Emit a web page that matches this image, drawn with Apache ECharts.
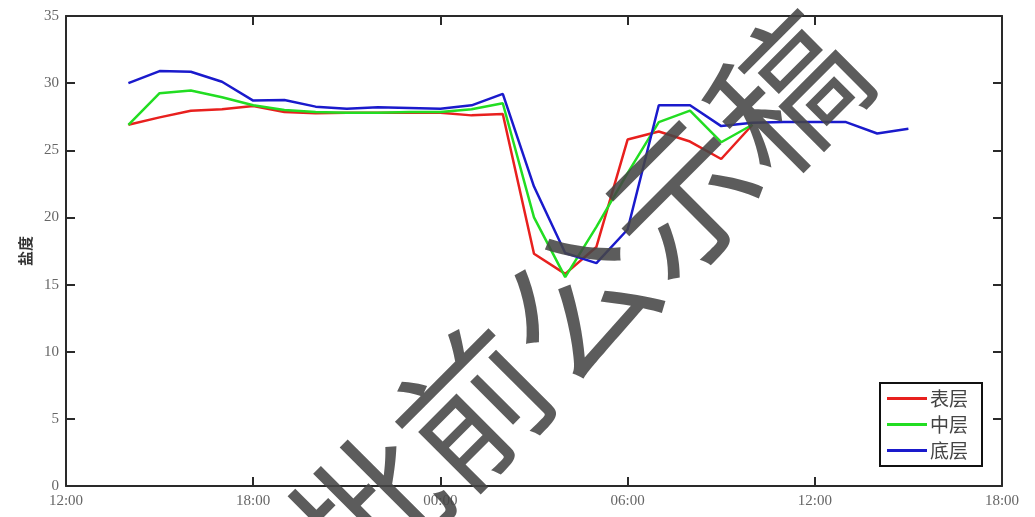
<!DOCTYPE html>
<html>
<head>
<meta charset="utf-8">
<script src="https://cdn.jsdelivr.net/npm/echarts@6/dist/echarts.min.js"></script>
<style>
html,body{margin:0;padding:0;background:#fff;}
#chart{width:1035px;height:517px;}
</style>
</head>
<body>
<div id="chart"></div>
<script>
// Hours since 12:00 on day 1
const hoursSurfMid = [2,3,4,5,6,7,8,9,10,11,12,13,14,15,16,17,18,19,20,21,22];
const hoursBottom  = [2,3,4,5,6,7,8,9,10,11,12,13,14,15,16,17,18,19,20,21,22,23,24,25,26,27];
const surface = [26.9,27.45,27.95,28.05,28.3,27.85,27.75,27.8,27.8,27.8,27.8,27.6,27.7,17.3,15.8,17.8,25.8,26.4,25.65,24.35,26.9];
const middle  = [26.9,29.25,29.45,28.95,28.35,28.0,27.85,27.8,27.8,27.85,27.85,28.05,28.5,20.0,15.55,19.3,23.3,27.1,27.95,25.6,26.9];
const bottom  = [30.0,30.9,30.85,30.1,28.7,28.75,28.25,28.1,28.2,28.15,28.1,28.35,29.2,22.3,17.35,16.6,19.1,28.35,28.35,26.8,27.05,27.1,27.1,27.1,26.25,26.6];
const seriesNames = ['表层','中层','底层'];
const xTickLabels = ['12:00','18:00','00:00','06:00','12:00','18:00'];
const yName = '盐度';
const watermark = '批前公示稿';

const pair = (xs, ys) => xs.map((x, i) => [x, ys[i]]);
const serif = '"Liberation Serif", "DejaVu Serif", serif';
const cjk = '"Noto Sans CJK SC", serif';
const axisColor = '#2a2a2a';

const chart = echarts.init(document.getElementById('chart'), null, {renderer: 'canvas'});
const xCommon = {
  type: 'value', min: 0, max: 30, interval: 6,
  axisLine: {show: true, onZero: false, lineStyle: {color: axisColor, width: 2}},
  axisTick: {show: true, inside: true, length: 9, lineStyle: {color: axisColor, width: 2}},
  splitLine: {show: false}
};
const yCommon = {
  type: 'value', min: 0, max: 35, interval: 5,
  axisLine: {show: true, onZero: false, lineStyle: {color: axisColor, width: 2}},
  axisTick: {show: true, inside: true, length: 9, lineStyle: {color: axisColor, width: 2}},
  splitLine: {show: false}
};
chart.setOption({
  animation: false,
  backgroundColor: '#ffffff',
  grid: {left: 66, right: 33, top: 16, bottom: 31, containLabel: false},
  xAxis: [
    Object.assign({}, xCommon, {
      position: 'bottom',
      axisLabel: {show: true, margin: 8, color: '#666', fontFamily: serif, fontSize: 15,
        formatter: v => xTickLabels[Math.round(v / 6)]}
    }),
    Object.assign({}, xCommon, {position: 'top', axisLabel: {show: false}})
  ],
  yAxis: [
    Object.assign({}, yCommon, {
      position: 'left',
      name: yName, nameLocation: 'middle', nameGap: 30, nameRotate: 90,
      nameTextStyle: {color: '#333', fontFamily: cjk, fontSize: 15, fontWeight: 'bold'},
      axisLabel: {show: true, margin: 7, color: '#666', fontFamily: serif, fontSize: 15}
    }),
    Object.assign({}, yCommon, {position: 'right', axisLabel: {show: false}})
  ],
  legend: {
    orient: 'vertical',
    left: 880, top: 383,
    padding: [6, 14, 6, 7],
    itemGap: 7,
    icon: 'rect',
    itemWidth: 40, itemHeight: 3,
    borderColor: '#111', borderWidth: 2,
    backgroundColor: '#fff',
    textStyle: {fontFamily: cjk, fontSize: 19, color: '#444', padding: [0, 0, 0, -2]},
    data: seriesNames
  },
  series: [
    {name: seriesNames[0], type: 'line', data: pair(hoursSurfMid, surface), symbol: 'none',
      lineStyle: {color: '#e8201e', width: 2.5}, itemStyle: {color: '#e8201e'}},
    {name: seriesNames[1], type: 'line', data: pair(hoursSurfMid, middle), symbol: 'none',
      lineStyle: {color: '#22dd22', width: 2.5}, itemStyle: {color: '#22dd22'}},
    {name: seriesNames[2], type: 'line', data: pair(hoursBottom, bottom), symbol: 'none',
      lineStyle: {color: '#1a1acc', width: 2.5}, itemStyle: {color: '#1a1acc'}}
  ],
  graphic: [{
    type: 'text',
    x: 578, y: 302,
    rotation: Math.PI / 4,
    z: 100,
    style: {
      text: watermark,
      fontSize: 148,
      fontFamily: '"Noto Sans CJK SC"',
      fill: 'rgba(70,70,70,0.88)',
      align: 'center', verticalAlign: 'middle',
      textAlign: 'center', textVerticalAlign: 'middle'
    }
  }]
});
</script>
</body>
</html>
